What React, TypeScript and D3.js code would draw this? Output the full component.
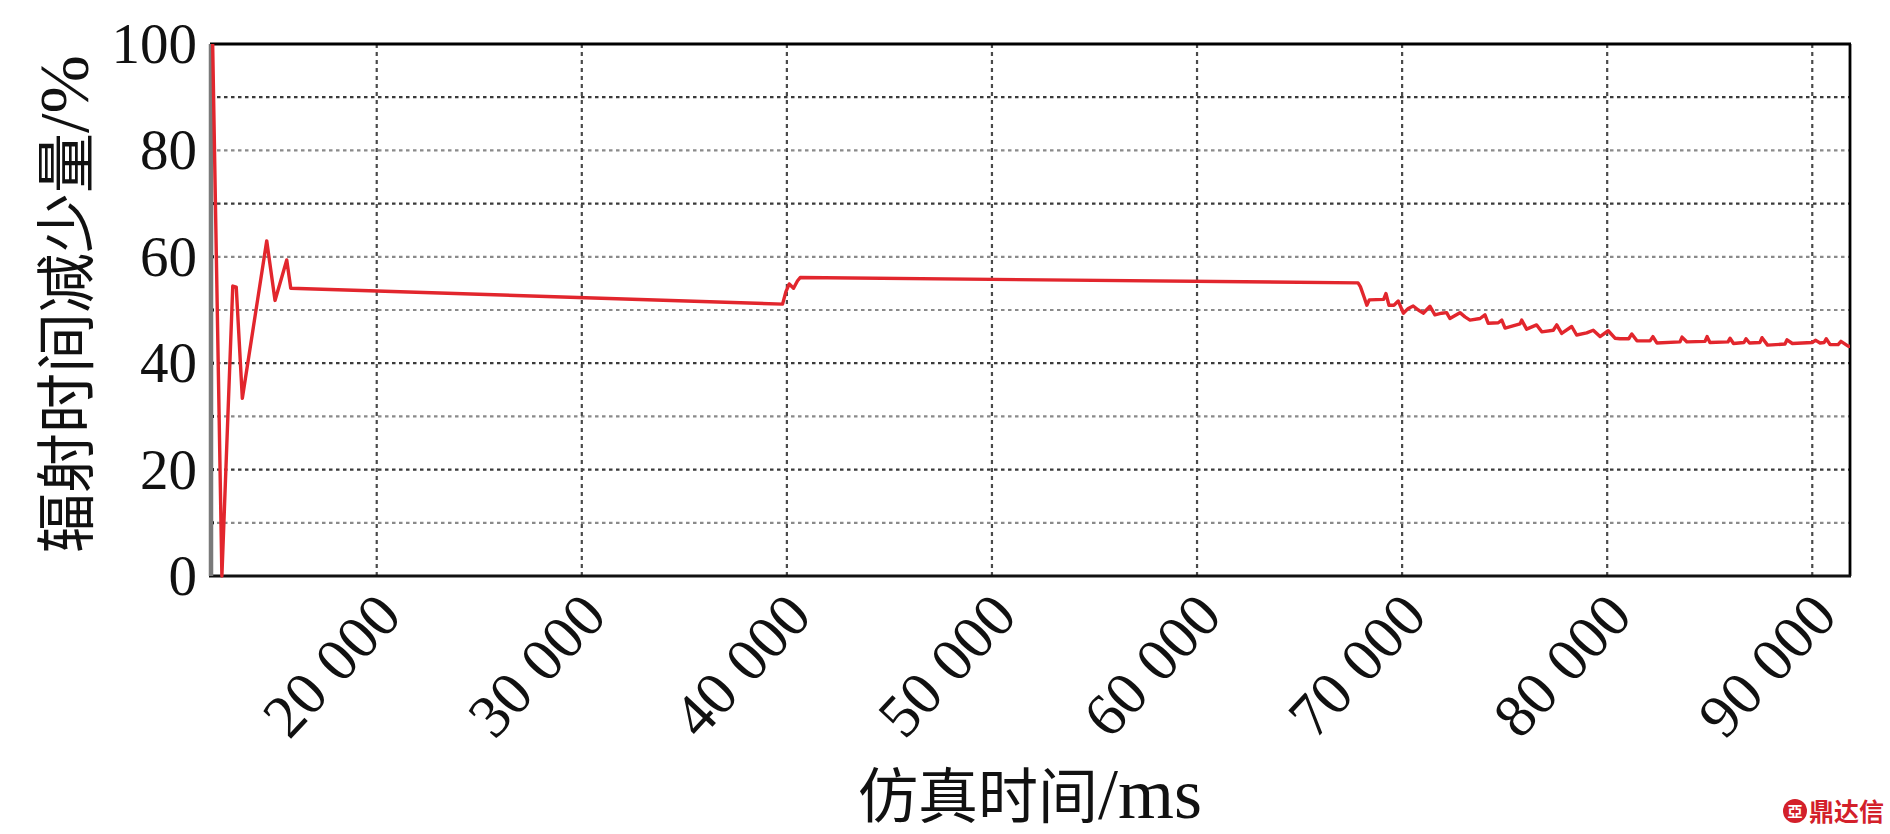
import React from "react";
import * as d3 from "d3";

const times: number[] = [
  12000, 12450, 12980, 13150, 13447, 14636, 15041, 15612, 15807,
  39790, 39950, 40115, 40325, 40520, 40650, 67850,
  67965, 68140, 68280, 68400, 69100, 69210, 69360, 69600, 69810, 70060,
  70300, 70540, 70790, 71030, 71360, 71600, 71930, 72170, 72330,
  72820, 73065, 73310, 73800, 74040, 74200, 74690, 74860, 75020,
  75750, 75830, 76070, 76560, 76810, 77370, 77540, 77780, 78270, 78510,
  79000, 79320, 79650, 80050, 80380, 80620, 81050, 81200, 81450,
  82090, 82230, 82420, 83550, 83650, 83890, 84770, 84870, 85010,
  85890, 85990, 86160, 86670, 86770, 86940, 87450, 87550, 87820,
  88670, 88770, 89030, 89990, 90170, 90380, 90580, 90680, 90870,
  91260, 91400, 91750, 91840,
];

const reduction: number[] = [
  100, 0, 54.5, 54.3, 33.4, 63.0, 51.8, 59.4, 54.1,
  51.1, 53.4, 54.9, 54.1, 55.5, 56.1, 55.1,
  54.4, 52.5, 50.9, 51.9, 52.0, 53.1, 50.9, 50.9, 51.7, 49.4,
  50.3, 50.75, 50.0, 49.4, 50.7, 49.1, 49.4, 49.5, 48.4,
  49.5, 48.7, 48.1, 48.4, 49.1, 47.5, 47.6, 48.1, 46.6,
  47.4, 48.1, 46.4, 47.2, 45.9, 46.2, 47.2, 45.6, 46.9, 45.3,
  45.7, 46.2, 45.0, 46.1, 44.7, 44.6, 44.6, 45.5, 44.2,
  44.2, 45.0, 43.8, 44.0, 44.9, 44.0, 44.1, 45.0, 43.9,
  44.0, 44.7, 43.7, 43.9, 44.6, 43.8, 43.9, 44.8, 43.4,
  43.6, 44.4, 43.7, 43.9, 44.3, 43.8, 43.9, 44.6, 43.5,
  43.5, 44.1, 43.2, 43.2,
];

const xTicks: number[] = [20000, 30000, 40000, 50000, 60000, 70000, 80000, 90000];
const xTickLabels: string[] = ["20 000", "30 000", "40 000", "50 000", "60 000", "70 000", "80 000", "90 000"];
const yTicks: number[] = [0, 20, 40, 60, 80, 100];
const yGridLines: number[] = [10, 20, 30, 40, 50, 60, 70, 80, 90];
const xDomain: number[] = [11870, 91840];
const yDomain: number[] = [0, 100];

const xTitleMain = "仿真时间";
const xTitleUnit = "/ms";
const yTitleMain = "辐射时间减少量";
const yTitleUnit = "/%";
const watermark = "鼎达信";

const W = 1890;
const H = 834;
const M = { left: 210, right: 1850, top: 44, bottom: 576 };
const darkGrid = new Set([20, 40, 70, 90]);
const SERIF = "'Liberation Serif', 'Noto Sans CJK SC', serif";

export default function App() {
  const x = d3.scaleLinear().domain(xDomain).range([M.left, M.right]);
  const y = d3.scaleLinear().domain(yDomain).range([M.bottom, M.top]);
  const pts: [number, number][] = times.map((t, i) => [t, reduction[i]]);
  const line = d3
    .line<[number, number]>()
    .x((d) => x(d[0]))
    .y((d) => y(d[1]));

  return (
    <svg
      width={W}
      height={H}
      style={{ position: "absolute", left: 0, top: 0, background: "#fff" }}
      xmlns="http://www.w3.org/2000/svg"
    >
      <rect x={0} y={0} width={W} height={H} fill="#fff" />
      {/* horizontal grid */}
      {yGridLines.map((v) => (
        <g key={"hg" + v}>
          <line
            x1={M.left}
            x2={M.right}
            y1={y(v)}
            y2={y(v)}
            stroke={darkGrid.has(v) ? "#3a3a3a" : "#8a8a8a"}
            strokeWidth={2.2}
            strokeDasharray="3.5,3.5"
          />
          <rect x={M.left} y={y(v) - 1.5} width={4} height={3} fill="#000" />
        </g>
      ))}
      {/* vertical grid */}
      {xTicks.map((t) => (
        <line
          key={"vg" + t}
          x1={x(t)}
          x2={x(t)}
          y1={M.top}
          y2={M.bottom}
          stroke="#4a4a4a"
          strokeWidth={2.2}
          strokeDasharray="4,4"
        />
      ))}
      {/* frame */}
      <line x1={M.left} x2={M.right + 1} y1={M.top} y2={M.top} stroke="#000" strokeWidth={2.8} />
      <line x1={M.right} x2={M.right} y1={M.top} y2={M.bottom} stroke="#000" strokeWidth={2.8} />
      <line x1={M.left - 1} x2={M.right + 1} y1={M.bottom} y2={M.bottom} stroke="#111" strokeWidth={3} />
      <line x1={M.left + 1} x2={M.left + 1} y1={M.top} y2={M.bottom} stroke="#7a7a7a" strokeWidth={4.5} />
      {/* series */}
      <path d={line(pts) || ""} fill="none" stroke="#e2262d" strokeWidth={3.4} strokeLinejoin="round" />
      {/* y tick labels */}
      {yTicks.map((v) => (
        <text
          key={"yl" + v}
          x={M.left - 13}
          y={y(v) + 19}
          textAnchor="end"
          fontFamily={SERIF}
          fontSize={57}
          fill="#111"
        >
          {v}
        </text>
      ))}
      {/* x tick labels */}
      {xTicks.map((t, i) => (
        <text
          key={"xl" + t}
          transform={`translate(${x(t) + 27},${M.bottom + 42}) rotate(-47)`}
          textAnchor="end"
          fontFamily={SERIF}
          fontSize={61}
          fill="#111"
        >
          {xTickLabels[i]}
        </text>
      ))}
      {/* titles */}
      <text
        x={(M.left + M.right) / 2}
        y={818}
        textAnchor="middle"
        fontFamily={SERIF}
        fontSize={60}
        fill="#111"
      >
        {xTitleMain}
        <tspan fontSize={72}>{xTitleUnit}</tspan>
      </text>
      <text
        transform={`translate(88,${(M.top + M.bottom) / 2 - 6}) rotate(-90)`}
        textAnchor="middle"
        fontFamily={SERIF}
        fontSize={60}
        fill="#111"
      >
        {yTitleMain}
        <tspan fontSize={70}>{yTitleUnit}</tspan>
      </text>
      {/* watermark */}
      <g>
        <circle cx={1795} cy={811} r={12} fill="#d3202a" />
        <text x={1795} y={817} textAnchor="middle" fontFamily="'Noto Sans CJK SC'" fontSize={15} fontWeight={700} fill="#fff">
          亞
        </text>
        <text x={1809} y={821} fontFamily="'Noto Sans CJK SC'" fontSize={25} fontWeight={700} fill="#d3202a">
          {watermark}
        </text>
      </g>
    </svg>
  );
}
